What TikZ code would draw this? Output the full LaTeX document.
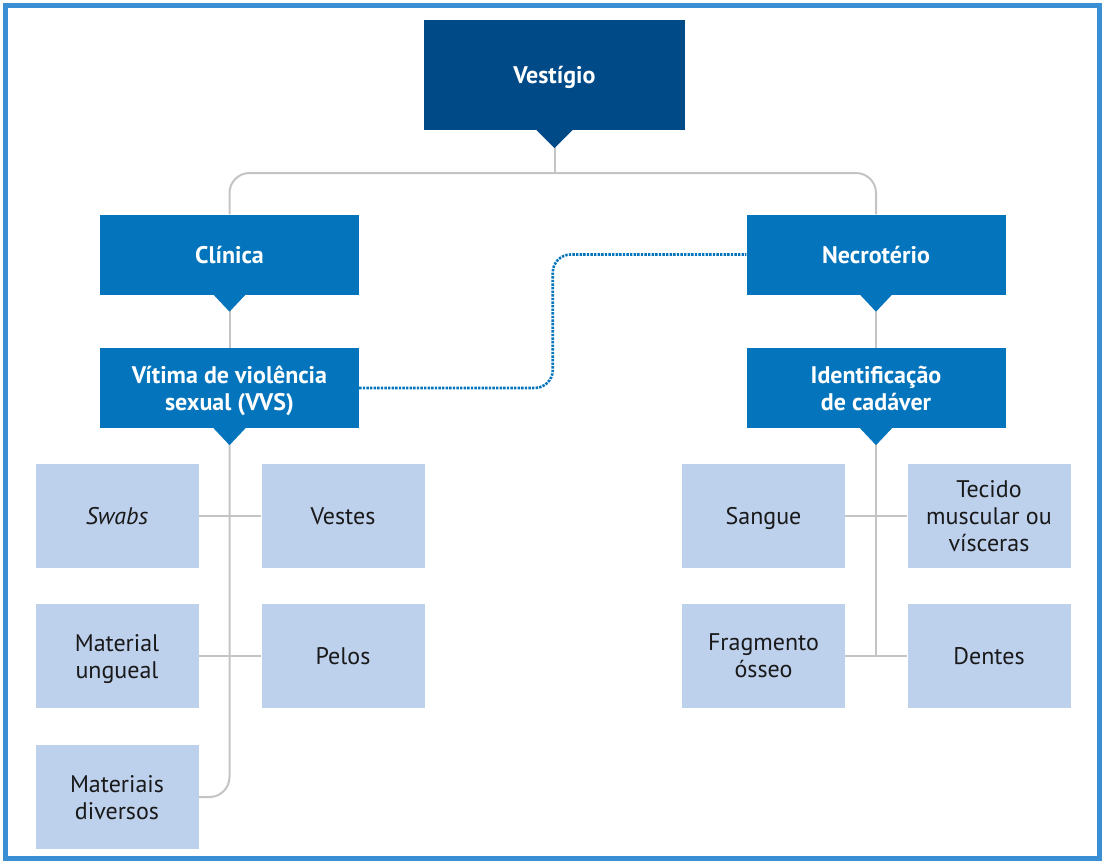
\documentclass[tikz,border=0pt]{standalone}
\usepackage{fontspec}
\setmainfont{PT Sans}
\usetikzlibrary{backgrounds, calc}

\definecolor{vestblue}{HTML}{004A87}
\definecolor{midblue}{HTML}{0474BC}
\definecolor{paleblue}{HTML}{BDD0EC}
\definecolor{linegray}{HTML}{C4C4C4}
\definecolor{framblue}{HTML}{3A8ED3}

\tikzset{
    topbox/.style={fill=vestblue, text=white, font=\bfseries\fontsize{24}{27}\selectfont,
        minimum width=261pt, minimum height=110pt, inner sep=0pt, text depth=0pt},
    headbox/.style={fill=midblue, text=white, font=\bfseries\fontsize{24}{27}\selectfont,
        minimum width=259pt, minimum height=80pt, inner sep=0pt, align=center, text depth=0pt},
    itembox/.style={fill=paleblue, text=black!90, font=\fontsize{24}{27}\selectfont,
        minimum width=163pt, minimum height=104pt, inner sep=0pt, align=center, text depth=0pt},
    link/.style={draw=linegray, line width=2pt},
    dotlink/.style={draw=midblue, line width=2.6pt, dash pattern=on 2.4pt off 1.2pt}
}

\begin{document}
\begin{tikzpicture}[x=1pt, y=-1pt]
    \useasboundingbox (0,0) rectangle (1105,864);

    % Top level
    \node[topbox] (vest) at (554.5, 75) {Vestígio};

    % Two sites
    \node[headbox] (clin)  at (229.5, 254.5) {Clínica};
    \node[headbox] (necro) at (876, 254.5) {Necrotério};
    \node[headbox] (vvs)   at (229.5, 388) {Vítima de violência\\sexual (VVS)};
    \node[headbox] (ident) at (876, 388) {Identificação\\de cadáver};

    % Samples, left
    \node[itembox] (swabs)    at (117, 516) {\textit{Swabs}};
    \node[itembox] (vestes)   at (343, 516) {Vestes};
    \node[itembox] (ungueal)  at (117, 656) {Material\\ungueal};
    \node[itembox] (pelos)    at (343, 656) {Pelos};
    \node[itembox] (diversos) at (117, 797) {Materiais\\diversos};

    % Samples, right
    \node[itembox] (sangue) at (763.5, 516) {Sangue};
    \node[itembox] (tecido) at (989, 516) {Tecido\\muscular ou\\vísceras};
    \node[itembox] (osseo)  at (763.5, 656) {Fragmento\\ósseo};
    \node[itembox] (dentes) at (989, 656) {Dentes};

    % Pointers under the blue boxes
    \fill[vestblue] (vest.south) ++(-18pt,0) -- ++(36pt,0) -- ++(-18pt,-18pt) -- cycle;
    \foreach \n in {clin, necro, vvs, ident} {
        \fill[midblue] (\n.south) ++(-16pt,0) -- ++(32pt,0) -- ++(-16pt,-17pt) -- cycle;
    }

    \coordinate (split) at (554.5, 173);
    \coordinate (bend) at ($(vvs.east)!0.5!(necro.west)$);

    \begin{scope}[on background layer]
        \draw[link] (vest) -- (split);
        \draw[link, rounded corners=20pt] (clin.north) |- (split) -| (necro.north);
        \draw[link] (clin) -- (vvs);
        \draw[link] (necro) -- (ident);
        \draw[link, rounded corners=20pt] (vvs) |- (diversos.east);
        \draw[link] (ident) -- (ident |- osseo);
        \draw[link] (swabs) -- (vestes);
        \draw[link] (ungueal) -- (pelos);
        \draw[link] (sangue) -- (tecido);
        \draw[link] (osseo) -- (dentes);
    \end{scope}

    % Link between the two branches
    \draw[dotlink, rounded corners=18pt] (vvs.east) -| (bend) |- (necro.west);

    % Frame
    \draw[framblue, line width=5pt] (5.5,5.5) rectangle (1099.5,858.5);
\end{tikzpicture}
\end{document}
